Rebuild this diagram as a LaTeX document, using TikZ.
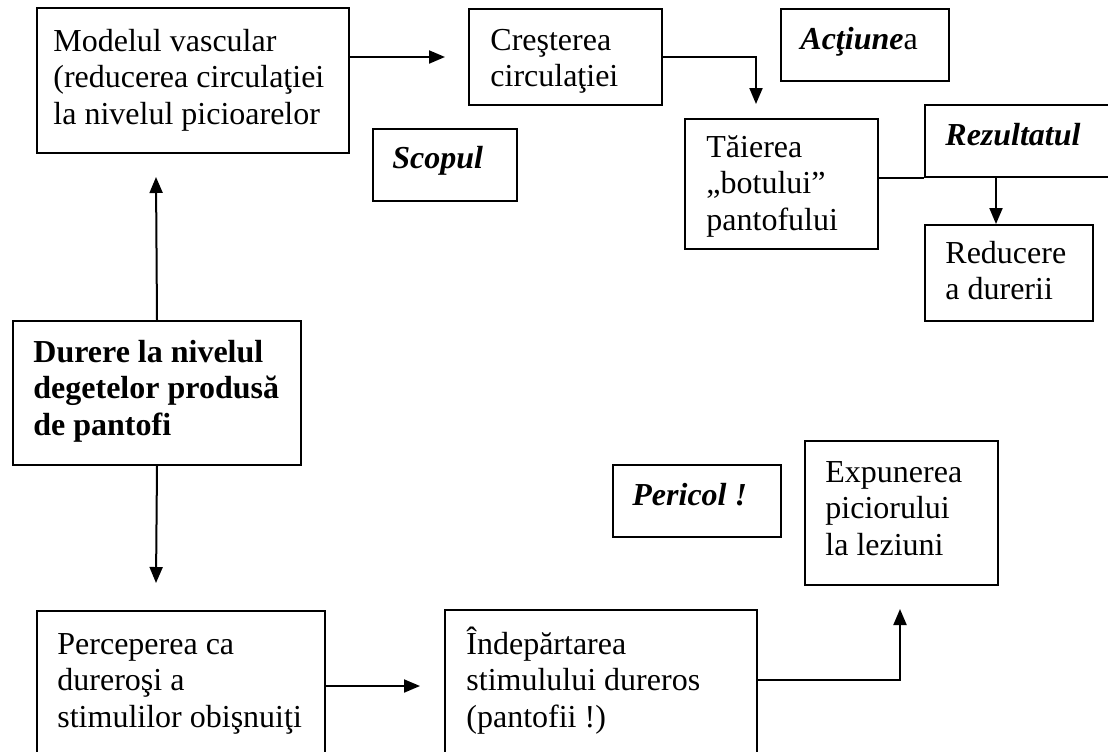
\documentclass[tikz,border=0pt]{standalone}
\usepackage{fontspec}
\setmainfont{Liberation Serif}
\usetikzlibrary{arrows.meta,calc}
\begin{document}
\begin{tikzpicture}[x=0.5pt,y=-0.5pt,
  box/.style={draw, line width=1pt, anchor=north west, inner sep=0pt},
  txt/.style={anchor=base west, inner sep=0pt, font=\fontsize{16pt}{18.4pt}\selectfont},
  arr/.style={line width=1pt, -{Triangle[length=8pt,width=6.5pt]}},
  link/.style={line width=0.8pt}]
\useasboundingbox (0,0) rectangle (1108,751);
\clip (0,0) rectangle (1108,751);

% text block placed inside a box: name, offset from the box's top-left corner, lines
\newcommand\putlines[3]{\node[txt] (#1t) at ([shift={(#2)}]#1.north west) {\parbox[t]{9cm}{\raggedright #3}};}
\newcommand\bi[1]{\textbf{\textit{#1}}}

% boxes
\node[box, minimum width=156pt, minimum height=72.5pt] (b1) at (36,7) {};
\node[box, minimum width=96.5pt, minimum height=48pt] (b2) at (468,8) {};
\node[box, minimum width=84pt, minimum height=36pt] (act) at (780,8) {};
\node[box, minimum width=72pt, minimum height=36pt] (scop) at (372,128) {};
\node[box, minimum width=96.5pt, minimum height=65pt] (tai) at (684,118) {};
\node[box, minimum width=98pt, minimum height=36pt] (rez) at (924,104) {};
\node[box, minimum width=84pt, minimum height=48pt] (red) at (924,224) {};
\node[box, minimum width=144pt, minimum height=72pt] (dur) at (12,320) {};
\node[box, minimum width=84pt, minimum height=36pt] (peric) at (612,464) {};
\node[box, minimum width=96.5pt, minimum height=72pt] (exp) at (804,440) {};
\node[box, minimum width=144pt, minimum height=80pt] (per) at (36,610) {};
\node[box, minimum width=156pt, minimum height=80pt] (ind) at (444,609) {};

% texts
\putlines{b1}{17,44}{Modelul vascular\\(reducerea circulaţiei\\la nivelul picioarelor}
\putlines{b2}{22,42}{Creşterea\\circulaţiei}
\putlines{act}{20,41}{\bi{Acţiune}a}
\putlines{scop}{20,40}{\bi{Scopul}}
\putlines{tai}{22,39}{Tăierea\\„botului”\\pantofului}
\putlines{rez}{21,41}{\bi{Rezultatul}}
\putlines{red}{21,39}{Reducere\\a durerii}
\putlines{dur}{21,42}{\textbf{Durere la nivelul}\\\textbf{degetelor produsă}\\\textbf{de pantofi}}
\putlines{peric}{20,41}{\bi{Pericol !}}
\putlines{exp}{21,42}{Expunerea\\piciorului\\la leziuni}
\putlines{per}{21,44}{Perceperea ca\\dureroşi a\\stimulilor obişnuiţi}
\putlines{ind}{22,45}{Îndepărtarea\\stimulului dureros\\(pantofii !)}

% connectors
\coordinate (c1) at (445,57);
\draw[arr] (b1.east |- c1) -- (c1);
\coordinate (c2) at (756,104);
\draw[arr] (b2.east |- c1) -| (c2);
\draw[link] (tai.east |- rez.south west) -- (rez.south west);
\coordinate (r0) at (996,176);
\draw[arr] (r0) -- (r0 |- red.north);
\coordinate (c5) at (156,177);
\draw[arr] (dur.north) -- (c5);
\coordinate (c6) at (156,583);
\draw[arr] (dur.south) -- (c6);
\coordinate (c7) at (420,686);
\draw[arr] (per.east |- c7) -- (c7);
\coordinate (k8) at (900,680);
\coordinate (c8) at (900,609);
\draw[arr] (ind.east |- k8) -- (k8) -- (c8);
\end{tikzpicture}
\end{document}
